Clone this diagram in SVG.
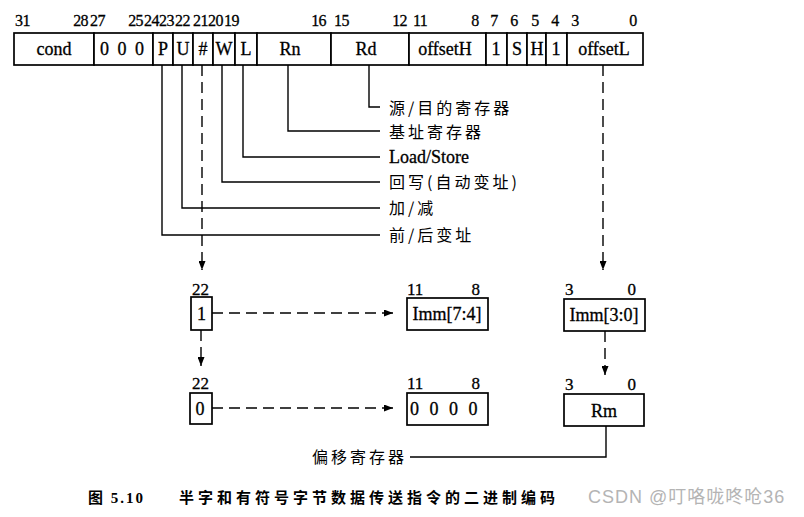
<svg xmlns="http://www.w3.org/2000/svg" width="804" height="517" viewBox="0 0 804 517">
<style>
.t{font-family:"Liberation Serif","Noto Sans CJK SC",serif;font-size:18px;fill:#000;stroke:#000;stroke-width:0.3}
.b{font-family:"Liberation Serif",serif;font-size:16px;fill:#000;stroke:#000;stroke-width:0.3;letter-spacing:-0.6px}
.n{font-family:"Liberation Serif",serif;font-size:17px;fill:#000;stroke:#000;stroke-width:0.3}
.m{text-anchor:middle}
.e{text-anchor:end}
.c{font-family:"Noto Sans CJK SC",sans-serif;font-size:16px;fill:#000;letter-spacing:3px}
.box{fill:#fff;stroke:#000;stroke-width:1.7}
.ln{stroke:#000;stroke-width:1.4;fill:none}
.ds{stroke:#000;stroke-width:1.4;fill:none;stroke-dasharray:11 6}
.cap{font-family:"Liberation Serif","Noto Sans CJK SC",serif;font-size:15px;font-weight:bold;fill:#000}
.wm{font-family:"Liberation Sans","Noto Sans CJK SC",sans-serif;font-size:18px;fill:#b4b4b4;letter-spacing:1px}
</style>
<defs>
<marker id="ah" markerWidth="9" markerHeight="7" refX="9" refY="3.5" orient="auto" markerUnits="userSpaceOnUse">
<path d="M0,0 L9,3.5 L0,7 z" fill="#000"/>
</marker>
</defs>

<g id="bitnums">
<text class="b" x="15" y="26">31</text>
<text class="b e" x="88" y="26">28</text>
<text class="b" x="90" y="26">27</text>
<text class="b e" x="143" y="26">25</text>
<text class="b" x="144" y="26">24</text>
<text class="b" x="159" y="26">23</text>
<text class="b" x="175" y="26">22</text>
<text class="b" x="193" y="26">21</text>
<text class="b" x="208" y="26">20</text>
<text class="b" x="224" y="26">19</text>
<text class="b e" x="326" y="26">16</text>
<text class="b" x="334" y="26">15</text>
<text class="b e" x="407" y="26">12</text>
<text class="b" x="413" y="26">11</text>
<text class="b m" x="475" y="26">8</text>
<text class="b m" x="494" y="26">7</text>
<text class="b m" x="514" y="26">6</text>
<text class="b m" x="535" y="26">5</text>
<text class="b m" x="555" y="26">4</text>
<text class="b m" x="575" y="26">3</text>
<text class="b m" x="633" y="26">0</text>
</g>

<g id="f-cond"><rect class="box" x="14" y="33" width="80" height="32"/><text class="t m" x="54" y="55">cond</text></g>
<g id="f-000"><rect class="box" x="94" y="33" width="59" height="32"/><text class="t" x="100" y="55" style="letter-spacing:2px">0 0 0</text></g>
<g id="f-P"><rect class="box" x="153" y="33" width="20" height="32"/><text class="t m" x="163" y="55">P</text></g>
<g id="f-U"><rect class="box" x="173" y="33" width="20" height="32"/><text class="t m" x="183" y="55">U</text></g>
<g id="f-I"><rect class="box" x="193" y="33" width="20" height="32"/><text class="t m" x="203" y="55">#</text></g>
<g id="f-W"><rect class="box" x="213" y="33" width="22" height="32"/><text class="t m" x="224" y="55">W</text></g>
<g id="f-L"><rect class="box" x="235" y="33" width="22" height="32"/><text class="t m" x="246" y="55">L</text></g>
<g id="f-Rn"><rect class="box" x="257" y="33" width="74" height="32"/><text class="t m" x="290" y="55">Rn</text></g>
<g id="f-Rd"><rect class="box" x="331" y="33" width="78" height="32"/><text class="t m" x="366" y="55">Rd</text></g>
<g id="f-offsetH"><rect class="box" x="409" y="33" width="77" height="32"/><text class="t m" x="445" y="55">offsetH</text></g>
<g id="f-b7"><rect class="box" x="486" y="33" width="21" height="32"/><text class="t m" x="496" y="55">1</text></g>
<g id="f-S"><rect class="box" x="507" y="33" width="20" height="32"/><text class="t m" x="517" y="55">S</text></g>
<g id="f-H"><rect class="box" x="527" y="33" width="19" height="32"/><text class="t m" x="537" y="55">H</text></g>
<g id="f-b4"><rect class="box" x="546" y="33" width="21" height="32"/><text class="t m" x="556" y="55">1</text></g>
<g id="f-offsetL"><rect class="box" x="567" y="33" width="76" height="32"/><text class="t m" x="604" y="55">offsetL</text></g>

<g id="connectors">
<path class="ln" d="M369,65 V107 H380"/>
<path class="ln" d="M288,65 V131 H380"/>
<path class="ln" d="M243,65 V157 H380"/>
<path class="ln" d="M222,65 V182 H380"/>
<path class="ln" d="M182,65 V208 H380"/>
<path class="ln" d="M162,65 V235 H380"/>
<path class="ds" d="M202,65 V270" marker-end="url(#ah)"/>
<path class="ds" d="M603,65 V270" marker-end="url(#ah)"/>
<path class="ds" d="M212,313 H393" marker-end="url(#ah)"/>
<path class="ds" d="M201,330 V366" marker-end="url(#ah)"/>
<path class="ds" d="M212,408 H393" marker-end="url(#ah)"/>
<path class="ds" d="M605,331 V375" marker-end="url(#ah)"/>
<path class="ln" d="M606,426 V457 H410"/>
</g>

<g id="labels">
<text class="c" x="389" y="114">源/目的寄存器</text>
<text class="c" x="389" y="138">基址寄存器</text>
<text class="t" x="389" y="163">Load/Store</text>
<text class="c" x="389" y="188">回写(自动变址)</text>
<text class="c" x="389" y="214">加/减</text>
<text class="c" x="389" y="241">前/后变址</text>
<text class="c" x="312" y="463">偏移寄存器</text>
</g>

<g id="n-bit22a">
<text class="n" x="192" y="295">22</text>
<rect class="box" x="191" y="297" width="21" height="33"/>
<text class="t m" x="201.5" y="320">1</text>
</g>
<g id="n-imm74">
<text class="n" x="407" y="295">11</text>
<text class="n e" x="480" y="295">8</text>
<rect class="box" x="407" y="298" width="81" height="32"/>
<text class="t m" x="447" y="320">Imm[7:4]</text>
</g>
<g id="n-imm30">
<text class="n" x="565" y="295">3</text>
<text class="n e" x="636" y="295">0</text>
<rect class="box" x="564" y="299" width="81" height="32"/>
<text class="t m" x="604" y="321">Imm[3:0]</text>
</g>
<g id="n-bit22b">
<text class="n" x="192" y="389">22</text>
<rect class="box" x="190" y="393" width="22" height="31"/>
<text class="t m" x="200" y="415">0</text>
</g>
<g id="n-zero">
<text class="n" x="407" y="389">11</text>
<text class="n e" x="480" y="389">8</text>
<rect class="box" x="407" y="393" width="81" height="32"/>
<text class="t" x="410" y="415" style="letter-spacing:3px">0 0 0 0</text>
</g>
<g id="n-Rm">
<text class="n" x="565" y="390">3</text>
<text class="n e" x="636" y="390">0</text>
<rect class="box" x="564" y="394" width="80" height="32"/>
<text class="t m" x="604" y="417">Rm</text>
</g>

<g id="caption">
<text class="cap" x="88" y="503" style="letter-spacing:2px">图 5.10</text>
<text class="cap" x="179" y="503" style="letter-spacing:4px">半字和有符号字节数据传送指令的二进制编码</text>
<text class="wm" x="588" y="503">CSDN @叮咯咙咚呛36</text>
</g>
</svg>
